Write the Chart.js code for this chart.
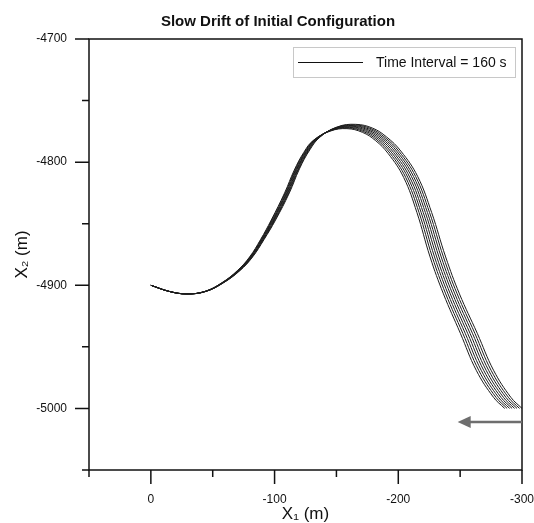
<!DOCTYPE html>
<html>
<head>
<meta charset="utf-8">
<title>Slow Drift of Initial Configuration</title>
<script src="https://cdn.jsdelivr.net/npm/chart.js@4.4.1/dist/chart.umd.min.js"></script>
<style>
  html, body { margin: 0; padding: 0; background: #fff; }
  canvas { display: block; }
</style>
</head>
<body>
<canvas id="drift" width="534" height="523"></canvas>
<script>
// --- DATA ---
const chartTitle = "Slow Drift of Initial Configuration";
const legendLabel = "Time Interval = 160 s";
const xTitle = "X\u2081 (m)";
const yTitle = "X\u2082 (m)";

const xMajor = [0, -100, -200, -300];
const xMinor = [50, -50, -150, -250];
const yMajor = [-4700, -4800, -4900, -5000];
const yMinor = [-4750, -4850, -4950, -5050];

// drift direction marker (data coords)
const arrowFrom = [-300, -5011];
const arrowTo = [-248, -5011];

// successive snapshots of the configuration, [X1, X2]
const run1 = [[0,-4900],[-14.8,-4905],[-28.7,-4907],[-43.5,-4905],[-57.3,-4898],[-70,-4888],[-79.8,-4877],[-88.6,-4863],[-97.3,-4847],[-108.1,-4825],[-115.9,-4806.5],[-123.6,-4792.1],[-131.2,-4782.4],[-145,-4774.8],[-158.5,-4772.8],[-171,-4775.8],[-181.5,-4782.4],[-191.9,-4793.1],[-204.4,-4812.5],[-215.1,-4841],[-225.7,-4877],[-236.5,-4907],[-250.2,-4939],[-263,-4969],[-277,-4991],[-286,-5000]];
const run2 = [[0,-4900],[-14.85,-4905],[-28.8,-4907],[-43.65,-4905],[-57.5,-4898],[-70.3,-4888],[-80.15,-4877],[-89,-4863],[-97.8,-4847],[-108.65,-4825],[-116.5,-4806.4],[-124.3,-4791.8],[-132,-4782],[-145.85,-4774.3],[-159.5,-4772.3],[-172.15,-4775.3],[-182.8,-4782],[-193.35,-4792.8],[-206,-4812.4],[-216.8,-4841],[-227.5,-4877],[-238.35,-4907],[-252.15,-4939],[-265,-4969],[-279,-4991],[-288,-5000]];
const run3 = [[0,-4900],[-14.9,-4905],[-28.9,-4907],[-43.8,-4905],[-57.7,-4898],[-70.6,-4888],[-80.5,-4877],[-89.4,-4863],[-98.3,-4847],[-109.2,-4825],[-117.1,-4806.2],[-125,-4791.5],[-132.8,-4781.6],[-146.7,-4773.8],[-160.5,-4771.8],[-173.3,-4774.8],[-184.1,-4781.6],[-194.8,-4792.5],[-207.6,-4812.2],[-218.5,-4841],[-229.3,-4877],[-240.2,-4907],[-254.1,-4939],[-267,-4969],[-281,-4991],[-290,-5000]];
const run4 = [[0,-4900],[-14.95,-4905],[-29,-4907],[-43.95,-4905],[-57.9,-4898],[-70.9,-4888],[-80.85,-4877],[-89.8,-4863],[-98.8,-4847],[-109.75,-4825],[-117.7,-4806.1],[-125.7,-4791.2],[-133.6,-4781.2],[-147.55,-4773.3],[-161.5,-4771.3],[-174.45,-4774.3],[-185.4,-4781.2],[-196.25,-4792.2],[-209.2,-4812.1],[-220.2,-4841],[-231.1,-4877],[-242.05,-4907],[-256.05,-4939],[-269,-4969],[-283,-4991],[-292,-5000]];
const run5 = [[0,-4900],[-15,-4905],[-29.1,-4907],[-44.1,-4905],[-58.1,-4898],[-71.2,-4888],[-81.2,-4877],[-90.2,-4863],[-99.3,-4847],[-110.3,-4825],[-118.3,-4805.9],[-126.4,-4790.9],[-134.4,-4780.8],[-148.4,-4772.8],[-162.5,-4770.8],[-175.6,-4773.8],[-186.7,-4780.8],[-197.7,-4791.9],[-210.8,-4811.9],[-221.9,-4841],[-232.9,-4877],[-243.9,-4907],[-258,-4939],[-271,-4969],[-285,-4991],[-294,-5000]];
const run6 = [[0,-4900],[-15.05,-4905],[-29.2,-4907],[-44.25,-4905],[-58.3,-4898],[-71.5,-4888],[-81.55,-4877],[-90.6,-4863],[-99.8,-4847],[-110.85,-4825],[-118.9,-4805.8],[-127.1,-4790.6],[-135.2,-4780.4],[-149.25,-4772.3],[-163.5,-4770.3],[-176.75,-4773.3],[-188,-4780.4],[-199.15,-4791.6],[-212.4,-4811.8],[-223.6,-4841],[-234.7,-4877],[-245.75,-4907],[-259.95,-4939],[-273,-4969],[-287,-4991],[-296,-5000]];
const run7 = [[0,-4900],[-15.1,-4905],[-29.3,-4907],[-44.4,-4905],[-58.5,-4898],[-71.8,-4888],[-81.9,-4877],[-91,-4863],[-100.3,-4847],[-111.4,-4825],[-119.5,-4805.6],[-127.8,-4790.3],[-136,-4780],[-150.1,-4771.8],[-164.5,-4769.8],[-177.9,-4772.8],[-189.3,-4780],[-200.6,-4791.3],[-214,-4811.6],[-225.3,-4841],[-236.5,-4877],[-247.6,-4907],[-261.9,-4939],[-275,-4969],[-289,-4991],[-298,-5000]];
const run8 = [[0,-4900],[-15.15,-4905],[-29.4,-4907],[-44.55,-4905],[-58.7,-4898],[-72.1,-4888],[-82.25,-4877],[-91.4,-4863],[-100.8,-4847],[-111.95,-4825],[-120.1,-4805.5],[-128.5,-4790],[-136.8,-4779.6],[-150.95,-4771.3],[-165.5,-4769.3],[-179.05,-4772.3],[-190.6,-4779.6],[-202.05,-4791],[-215.6,-4811.5],[-227,-4841],[-238.3,-4877],[-249.45,-4907],[-263.85,-4939],[-277,-4969],[-291,-4991],[-300,-5000]];

const runs = [run1, run2, run3, run4, run5, run6, run7, run8];

// --- STYLE ---
const FONT = "'Liberation Sans', Arial, sans-serif";
const INK = '#111';

// frame, outward ticks, legend box, arrow and title
const decorations = {
    id: 'decorations',
    afterDraw(chart) {
        const { ctx, chartArea: a, scales: { x, y } } = chart;
        ctx.save();

        // plot frame
        ctx.strokeStyle = INK;
        ctx.lineWidth = 1.5;
        ctx.strokeRect(a.left, a.top, a.right - a.left, a.bottom - a.top);

        // ticks (outside)
        ctx.beginPath();
        xMajor.forEach(v => { const p = x.getPixelForValue(v); ctx.moveTo(p, a.bottom); ctx.lineTo(p, a.bottom + 14); });
        xMinor.forEach(v => { const p = x.getPixelForValue(v); ctx.moveTo(p, a.bottom); ctx.lineTo(p, a.bottom + 7); });
        yMajor.forEach(v => { const p = y.getPixelForValue(v); ctx.moveTo(a.left, p); ctx.lineTo(a.left - 14, p); });
        yMinor.forEach(v => { const p = y.getPixelForValue(v); ctx.moveTo(a.left, p); ctx.lineTo(a.left - 7, p); });
        ctx.stroke();

        // drift arrow
        const ax0 = x.getPixelForValue(arrowFrom[0]), ay0 = y.getPixelForValue(arrowFrom[1]);
        const ax1 = x.getPixelForValue(arrowTo[0]), ay1 = y.getPixelForValue(arrowTo[1]);
        ctx.strokeStyle = '#6e6e6e';
        ctx.fillStyle = '#6e6e6e';
        ctx.lineWidth = 2.6;
        ctx.beginPath();
        ctx.moveTo(ax0, ay0);
        ctx.lineTo(ax1 + 10, ay1);
        ctx.stroke();
        ctx.beginPath();
        ctx.moveTo(ax1, ay1);
        ctx.lineTo(ax1 + 13, ay1 - 6);
        ctx.lineTo(ax1 + 13, ay1 + 6);
        ctx.closePath();
        ctx.fill();

        // legend
        ctx.strokeStyle = '#c8c8c8';
        ctx.lineWidth = 1;
        ctx.strokeRect(293.5, 47.5, 222, 30);
        ctx.strokeStyle = INK;
        ctx.beginPath();
        ctx.moveTo(298, 62.5);
        ctx.lineTo(363, 62.5);
        ctx.stroke();
        ctx.fillStyle = INK;
        ctx.font = '14px ' + FONT;
        ctx.textAlign = 'left';
        ctx.textBaseline = 'middle';
        ctx.fillText(legendLabel, 376, 63);

        // title
        ctx.font = 'bold 15px ' + FONT;
        ctx.textAlign = 'center';
        ctx.fillText(chartTitle, 278, 22);

        ctx.restore();
    }
};

function tickLabel(list) {
    return v => list.includes(v) ? String(v) : '';
}

new Chart(document.getElementById('drift'), {
    type: 'scatter',
    data: {
        datasets: runs.map((r, i) => ({
            label: 'run ' + (i + 1),
            data: r.map(([px, py]) => ({ x: px, y: py })),
            showLine: true,
            borderColor: '#1c1c1c',
            borderWidth: 1,
            pointRadius: 0,
            tension: 0.4
        }))
    },
    options: {
        responsive: false,
        animation: false,
        layout: { padding: { top: 39, right: 12, left: 0, bottom: 0 } },
        plugins: {
            legend: { display: false },
            tooltip: { enabled: false },
            title: { display: false }
        },
        scales: {
            x: {
                type: 'linear',
                min: -300,
                max: 50,
                reverse: true,
                grid: { display: false, drawTicks: false },
                border: { display: false },
                ticks: {
                    stepSize: 50,
                    autoSkip: false,
                    maxRotation: 0,
                    padding: 22,
                    color: INK,
                    font: { family: FONT, size: 12 },
                    callback: tickLabel(xMajor)
                },
                title: {
                    display: true,
                    text: xTitle,
                    color: INK,
                    font: { family: FONT, size: 17 },
                    padding: { top: 0, bottom: -2 }
                },
                afterFit(s) {
                    s.height = 53;
                    s.paddingLeft = 0;
                    s.paddingRight = 0;
                }
            },
            y: {
                type: 'linear',
                min: -5050,
                max: -4700,
                grid: { display: false, drawTicks: false },
                border: { display: false },
                ticks: {
                    stepSize: 50,
                    autoSkip: false,
                    padding: 22,
                    color: INK,
                    font: { family: FONT, size: 12 },
                    callback: tickLabel(yMajor)
                },
                title: {
                    display: true,
                    text: yTitle,
                    color: INK,
                    font: { family: FONT, size: 17 },
                    padding: { top: 12, bottom: 0 }
                },
                afterFit(s) {
                    s.width = 89;
                    s.paddingTop = 0;
                    s.paddingBottom = 0;
                }
            }
        }
    },
    plugins: [decorations]
});
</script>
</body>
</html>
